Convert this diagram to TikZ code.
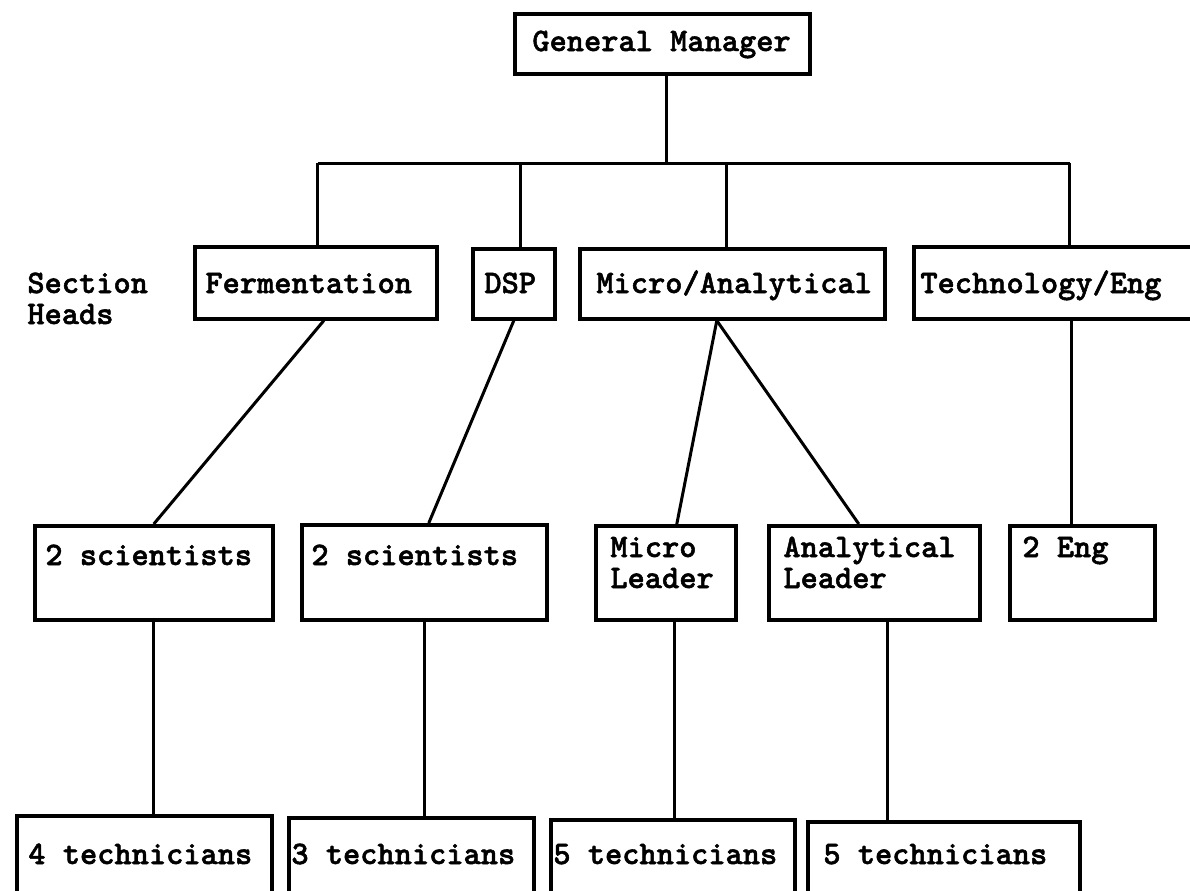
\documentclass[tikz,border=0pt]{standalone}
\usepackage{fontspec}
\newfontfamily\typewriter{lmmonolt10-bold.otf}[FakeBold=1.6]
\begin{document}
\begin{tikzpicture}[x=0.5pt,y=-0.5pt,
  box/.style={draw, line width=1.8pt, rectangle, inner sep=0pt, anchor=north west},
  lbl/.style={font=\typewriter\fontsize{16.4pt}{15.5pt}\selectfont, inner sep=0pt, anchor=base west, align=left},
  link/.style={line width=1.5pt}]
\useasboundingbox (0,0) rectangle (1190,890);

% ---- boxes ----
\node[box, minimum width=147.5pt, minimum height=30pt] (gm) at (513,12) {};
\node[box, minimum width=121pt, minimum height=36pt] (fer) at (193,245) {};
\node[box, minimum width=41pt, minimum height=35pt] (dsp) at (471,247) {};
\node[box, minimum width=152.5pt, minimum height=35pt] (ma) at (578,247) {};
\node[box, minimum width=146.5pt, minimum height=36pt] (tech) at (912,245) {};
\node[box, minimum width=119pt, minimum height=47pt] (sci1) at (33,524) {};
\node[box, minimum width=122.5pt, minimum height=47.5pt] (sci2) at (300,523) {};
\node[box, minimum width=70pt, minimum height=47pt] (ml) at (594,524) {};
\node[box, minimum width=105.5pt, minimum height=47pt] (al) at (767,524) {};
\node[box, minimum width=72.5pt, minimum height=47pt] (eng) at (1008,524) {};
\node[box, minimum width=127.5pt, minimum height=45.5pt] (t1) at (15,814) {};
\node[box, minimum width=122.5pt, minimum height=44.5pt] (t2) at (287,816) {};
\node[box, minimum width=122pt, minimum height=43.5pt] (t3) at (549,818) {};
\node[box, minimum width=136pt, minimum height=42.5pt] (t4) at (806,820) {};

% ---- texts (base anchor = baseline of the last line) ----
\node[lbl] (gmt) at (532,51) {General Manager};
\node[lbl] (sec) at (27,324) {Section\\Heads};
\node[lbl] (fert) at (205,293) {Fermentation};
\node[lbl] (dspt) at (484,293) {DSP};
\node[lbl] (mat) at (596,293) {Micro/Analytical};
\node[lbl] (techt) at (920,293) {Technology/Eng};
\node[lbl] (sci1t) at (45,565) {2 scientists};
\node[lbl] (sci2t) at (311,565) {2 scientists};
\node[lbl] (mlt) at (610,588) {Micro\\Leader};
\node[lbl] (alt) at (783,588) {Analytical\\Leader};
\node[lbl] (engt) at (1022,557) {2 Eng};
\node[lbl] (t1t) at (28,864) {4 technicians};
\node[lbl] (t2t) at (291,864) {3 technicians};
\node[lbl] (t3t) at (553,864) {5 technicians};
\node[lbl] (t4t) at (823,864) {5 technicians};

% ---- connectors ----
\coordinate (bus) at (0,163);
\coordinate (gmb) at ([xshift=2.25pt]gm.south);
\coordinate (ferT) at ([xshift=1pt]fer.north);
\coordinate (dspT) at ([xshift=3.5pt]dsp.north);
\coordinate (maT) at ([xshift=-2.75pt]ma.north);
\coordinate (techT) at ([xshift=4.75pt]tech.north);
\draw[link] (gmb) -- (gmb |- bus);
\draw[link] (ferT |- bus) -- (techT |- bus);
\foreach \c in {ferT,dspT,maT,techT}
  \draw[link] (\c |- bus) -- (\c);

\draw[link] ([xshift=4pt]fer.south) -- (sci1.north);
\draw[link] (dsp.south) -- ([xshift=2.25pt]sci2.north);
\draw[link] ([xshift=-7.75pt]ma.south) -- ([xshift=5.5pt]ml.north);
\draw[link] ([xshift=-7.75pt]ma.south) -- ([xshift=-7.75pt]al.north);
\draw[link] ([xshift=5.75pt]tech.south) -- ([xshift=-5.25pt]eng.north);

\coordinate (mlB) at ([xshift=4.5pt]ml.south);
\coordinate (alB) at ([xshift=6.75pt]al.south);
\draw[link] (sci1.south) -- (sci1.south |- t1.north);
\draw[link] (sci2.south) -- (sci2.south |- t2.north);
\draw[link] (mlB) -- (mlB |- t3.north);
\draw[link] (alB) -- (alB |- t4.north);
\end{tikzpicture}
\end{document}
